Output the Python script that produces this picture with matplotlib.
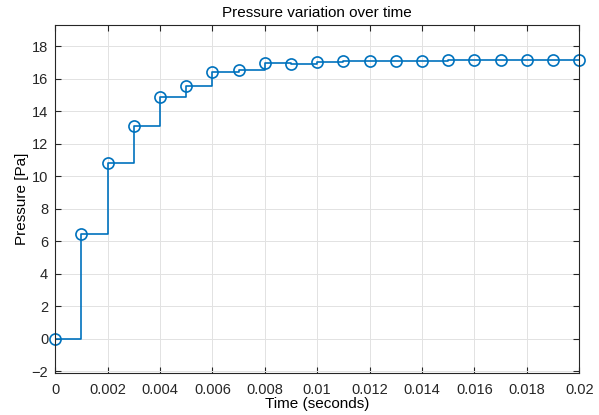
import matplotlib
matplotlib.use("Agg")
from matplotlib import pyplot as plt

# dados
tempo = [0.000, 0.001, 0.002, 0.003, 0.004, 0.005, 0.006, 0.007, 0.008, 0.009, 0.010,
         0.011, 0.012, 0.013, 0.014, 0.015, 0.016, 0.017, 0.018, 0.019, 0.020]
pressao = [0.0, 6.45, 10.84, 13.09, 14.87, 15.57, 16.39, 16.51, 16.94, 16.88, 17.02,
           17.06, 17.09, 17.10, 17.11, 17.12, 17.12, 17.12, 17.12, 17.12, 17.12]

xticks = [0, 0.002, 0.004, 0.006, 0.008, 0.01, 0.012, 0.014, 0.016, 0.018, 0.02]
xticklabels = ["0", "0.002", "0.004", "0.006", "0.008", "0.01", "0.012", "0.014", "0.016", "0.018", "0.02"]
yticks = [-2, 0, 2, 4, 6, 8, 10, 12, 14, 16, 18]

plt.rcParams["font.family"] = ["Liberation Sans", "DejaVu Sans"]
cor = "#0072BD"
cinza = "#262626"

fig = plt.figure(figsize=(5.99, 4.15), dpi=100)
ax = fig.add_axes([0.092, 0.101, 0.875, 0.839])

ax.step(tempo, pressao, where="post", color=cor, lw=1.2)
ax.plot(tempo, pressao, "o", mfc="none", mec=cor, ms=8, mew=1.2, clip_on=False)

ax.set_xlim(0, 0.02)
ax.set_ylim(-2.1, 19.3)
ax.set_xticks(xticks)
ax.set_xticklabels(xticklabels)
ax.set_yticks(yticks)

ax.tick_params(direction="in", top=True, right=True, length=4, colors=cinza, labelsize=10.5)
ax.tick_params(axis="x", pad=7)
ax.tick_params(axis="y", pad=5)
for s in ax.spines.values():
    s.set_color(cinza)
    s.set_linewidth(0.8)

ax.grid(True, color="#e2e2e2", lw=0.7)
ax.set_axisbelow(True)

ax.set_title("Pressure variation over time", fontsize=11, color="black", pad=6)
ax.set_xlabel("Time (seconds)", fontsize=11, labelpad=0)
ax.set_ylabel("Pressure [Pa]", fontsize=11, labelpad=2)

fig.savefig("out.png", dpi=100)
